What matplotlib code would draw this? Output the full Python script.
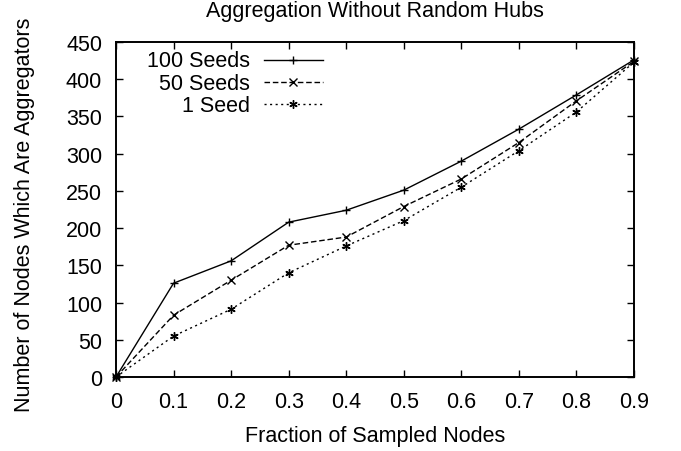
import matplotlib
matplotlib.use("Agg")
import matplotlib.pyplot as plt

plt.rcParams['font.family'] = ['Liberation Sans', 'DejaVu Sans']

# fraction of nodes sampled
fractions = [0, 0.1, 0.2, 0.3, 0.4, 0.5, 0.6, 0.7, 0.8, 0.9]

# aggregator counts for each seed setting
seeds_100 = [0, 126, 156, 208, 224, 251, 290, 333, 379, 426]
seeds_50 = [0, 83, 130, 177, 188, 229, 266, 315, 371, 424]
seeds_1 = [0, 55, 91, 140, 176, 210, 255, 304, 356, 423]

series = [
    ("100 Seeds", seeds_100, "-", "+"),
    ("50 Seeds", seeds_50, (0, (4, 2)), "x"),
    ("1 Seed", seeds_1, (0, (1.5, 2.5)), (6, 2, 0)),
]

W, H = 681, 452
L, R, T, B = 116, 634, 43, 378
fig = plt.figure(figsize=(W / 100, H / 100), dpi=100)
ax = fig.add_axes([L / W, 1 - B / H, (R - L) / W, (B - T) / H])

for name, vals, ls, mk in series:
    ax.plot(fractions, vals, color="black", linestyle=ls, linewidth=1,
            marker=mk, markersize=6, markeredgewidth=1, clip_on=False)

ax.set_xlim(0, 0.9)
ax.set_ylim(0, 450)
ax.set_xticks(fractions)
ax.set_xticklabels(["0", "0.1", "0.2", "0.3", "0.4", "0.5", "0.6", "0.7", "0.8", "0.9"])
ax.set_yticks(range(0, 451, 50))
ax.tick_params(direction="in", top=True, right=True, length=5, width=1,
               labelsize=15.5)
ax.tick_params(axis="y", pad=10)
ax.tick_params(axis="x", pad=10)
for sp in ax.spines.values():
    sp.set_linewidth(1.4)

fs = 15.5
fig.text((L + R) / 2 / W, 1 - 17 / H, "Aggregation Without Random Hubs",
         ha="center", va="baseline", fontsize=fs)
ax.set_xlabel("Fraction of Sampled Nodes", fontsize=fs, va="baseline")
ax.xaxis.set_label_coords(0.5, (B - 442) / (B - T))
ax.set_ylabel("Number of Nodes Which Are Aggregators", fontsize=fs,
              ha="center", va="center")
ax.yaxis.set_label_coords((25 - L) / (R - L), (B - 215) / (B - T))

# gnuplot-style key: right-aligned text with the sample to its right
tr = ax.transAxes
def ax_x(px):
    return (px - L) / (R - L)
def ax_y(py):
    return (B - py) / (B - T)

key_rows = [(67, 61), (90, 83), (112, 105)]
for (name, vals, ls, mk), (base, ly) in zip(series, key_rows):
    ax.text(ax_x(250), ax_y(base), name, transform=tr, ha="right",
            va="baseline", fontsize=fs)
    ax.plot([ax_x(264), ax_x(323)], [ax_y(ly), ax_y(ly)], transform=tr,
            color="black", linestyle=ls, linewidth=1)
    ax.plot([ax_x(293)], [ax_y(ly)], transform=tr, color="black",
            marker=mk, markersize=6, markeredgewidth=1)

fig.savefig("out.png", dpi=100)
